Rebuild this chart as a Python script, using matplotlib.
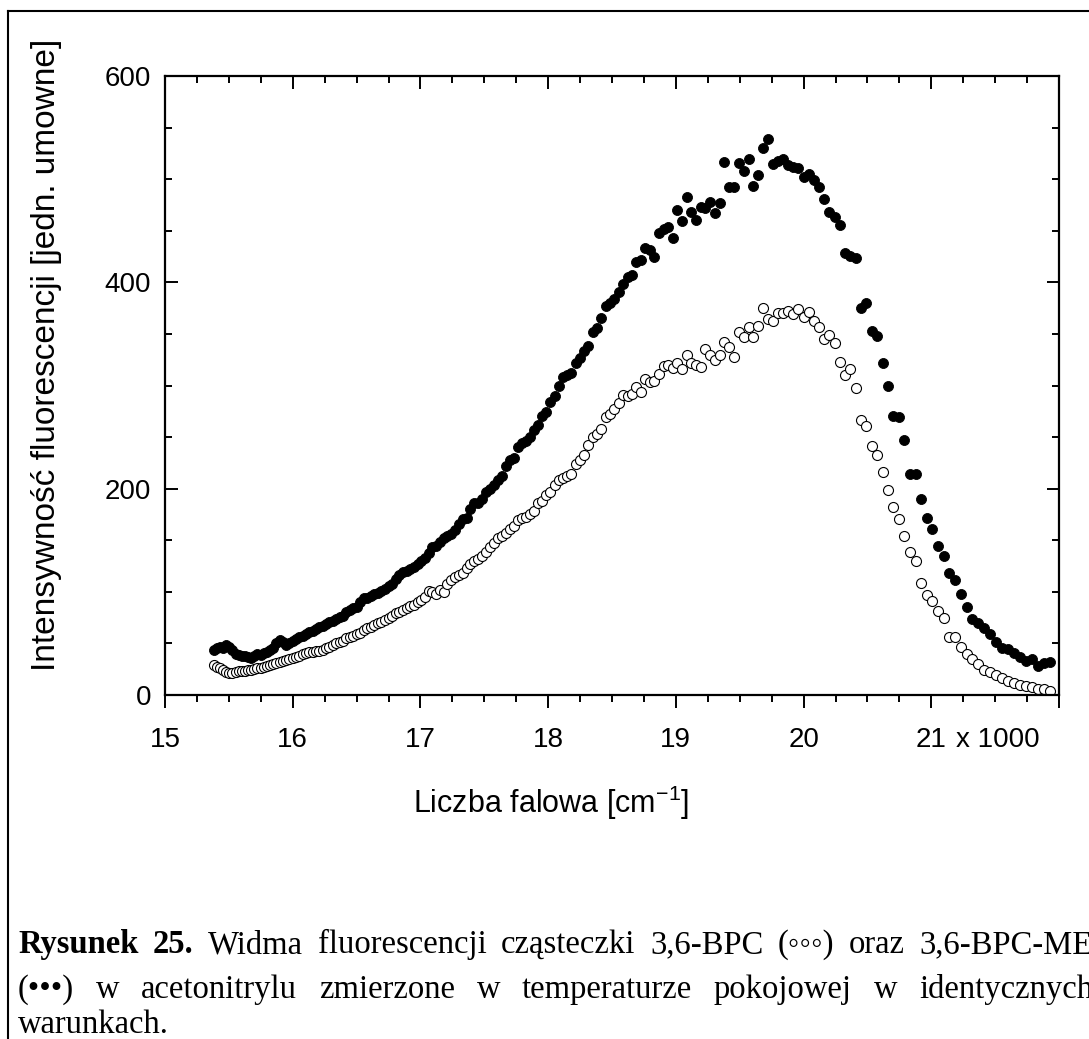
import numpy as np
import matplotlib
matplotlib.use('Agg')
import matplotlib.pyplot as plt
from matplotlib.lines import Line2D
from matplotlib.ticker import MultipleLocator

# widma zmierzone co 1 nm, od 650 nm do 456 nm
wavelength_nm = np.arange(650, 455, -1)
wavenumber_k = 1e4 / wavelength_nm  # [cm-1] / 1000

# 3,6-BPC-ME (punkty pelne)
bpc_me = [
    44, 46, 47, 46, 48, 47, 44, 40, 39, 38,
    38, 37, 36, 38, 40, 39, 41, 42, 44, 46,
    50, 53, 51, 48, 50, 52, 54, 56, 57, 59,
    61, 62, 64, 66, 67, 69, 71, 72, 74, 76,
    77, 80, 82, 84, 85, 90, 94, 94, 96, 98,
    99, 101, 103, 106, 108, 112, 116, 119, 120, 122,
    124, 127, 130, 133, 138, 143, 144, 148, 152, 154,
    156, 160, 166, 171, 172, 180, 186, 186, 190, 197,
    200, 204, 208, 212, 222, 228, 230, 240, 244, 246,
    250, 257, 262, 270, 274, 284, 290, 300, 308, 310,
    312, 322, 327, 333, 338, 352, 356, 365, 377, 380,
    384, 391, 398, 405, 407, 420, 422, 433, 431, 425,
    448, 452, 454, 443, 470, 459, 483, 468, 460, 473,
    472, 478, 467, 477, 517, 492, 492, 516, 508, 520,
    493, 504, 530, 539, 515, 518, 520, 514, 512, 511,
    502, 505, 499, 492, 481, 468, 463, 456, 428, 426,
    424, 375, 380, 353, 348, 322, 300, 270, 269, 247,
    214, 214, 190, 172, 161, 144, 135, 118, 111, 98,
    85, 74, 70, 65, 59, 51, 46, 45, 41, 37,
    33, 35, 28, 31, 32,
]

# 3,6-BPC (punkty puste)
bpc = [
    29, 27, 26, 24, 22, 21, 21, 22, 23, 23,
    23, 24, 24, 25, 26, 26, 27, 28, 29, 30,
    31, 32, 33, 34, 35, 36, 37, 38, 40, 41,
    42, 42, 43, 43, 44, 46, 47, 48, 50, 51,
    52, 55, 56, 57, 59, 60, 63, 65, 66, 68,
    70, 71, 73, 75, 77, 79, 80, 82, 84, 86,
    87, 90, 92, 95, 101, 100, 98, 102, 100, 108,
    111, 114, 116, 118, 123, 127, 130, 132, 135, 139,
    143, 147, 152, 154, 157, 161, 164, 170, 172, 173,
    175, 178, 186, 188, 194, 197, 204, 208, 210, 212,
    214, 224, 228, 233, 242, 250, 253, 258, 269, 272,
    277, 283, 291, 290, 292, 299, 294, 306, 303, 304,
    311, 319, 320, 317, 322, 316, 330, 322, 320, 318,
    335, 330, 325, 330, 342, 337, 328, 352, 347, 357,
    347, 358, 375, 364, 363, 370, 370, 372, 369, 374,
    366, 371, 363, 357, 345, 349, 341, 323, 310, 316,
    298, 267, 261, 241, 233, 216, 199, 182, 171, 154,
    139, 130, 109, 97, 91, 81, 75, 56, 56, 47,
    40, 35, 30, 24, 22, 19, 16, 14, 12, 10,
    9, 8, 6, 5.5, 4,
]

x_ticks = [15, 16, 17, 18, 19, 20, 21, 22]
x_tick_labels = ['15', '16', '17', '18', '19', '20', '21', '']
y_ticks = [0, 200, 400, 600]

caption_lines = [
    [('Rysunek', 'bold'), ('25.', 'bold'), ('Widma', 'normal'), ('fluorescencji', 'normal'),
     ('cząsteczki', 'normal'), ('3,6-BPC', 'normal'), ('(◦◦◦)', 'normal'), ('oraz', 'normal'),
     ('3,6-BPC-ME', 'normal')],
    [('(•••)', 'normal'), ('w', 'normal'), ('acetonitrylu', 'normal'), ('zmierzone', 'normal'),
     ('w', 'normal'), ('temperaturze', 'normal'), ('pokojowej', 'normal'), ('w', 'normal'),
     ('identycznych', 'normal')],
    [('warunkach.', 'normal')],
]

W, H = 1089, 1039
plt.rcParams['font.family'] = ['Liberation Sans', 'DejaVu Sans']
plt.rcParams['mathtext.default'] = 'regular'

fig = plt.figure(figsize=(W / 100, H / 100), dpi=100)
ax = fig.add_axes([165 / W, 1 - 695 / H, (1059 - 165) / W, (695 - 76) / H])

ax.plot(wavenumber_k, bpc_me, 'o', ms=7.2, mfc='black', mec='black', mew=0.6)
ax.plot(wavenumber_k, bpc, 'o', ms=7.2, mfc='white', mec='black', mew=0.8)

ax.set_xlim(15, 22)
ax.set_ylim(0, 600)
ax.set_xticks(x_ticks)
ax.set_xticklabels(x_tick_labels)
ax.xaxis.set_minor_locator(MultipleLocator(0.25))
ax.set_yticks(y_ticks)
ax.yaxis.set_minor_locator(MultipleLocator(50))

for s in ax.spines.values():
    s.set_linewidth(1.6)
ax.tick_params(axis='both', which='both', labelsize=20, width=1.4)
ax.tick_params(axis='x', which='both', direction='out', top=True, pad=14)
ax.tick_params(axis='y', which='both', direction='in', right=True, pad=10)
ax.tick_params(which='major', length=9)
ax.tick_params(which='minor', length=5)
# gorne znaczniki do srodka
for t in ax.xaxis.get_major_ticks() + ax.xaxis.get_minor_ticks():
    t.tick2line.set_marker(3)

ax.annotate('x 1000', xy=(21, 0), xycoords=('data', 'axes fraction'),
            xytext=(18, -9 - 14), textcoords='offset points',
            ha='left', va='top', fontsize=20)

ax.set_xlabel('Liczba falowa [cm$^{-1}$]', fontsize=22)
ax.xaxis.set_label_coords(0.432, -0.143)
ax.set_ylabel('Intensywność fluorescencji [jedn. umowne]', fontsize=24)
ax.yaxis.set_label_coords(-0.115, 0.55)

# ramka rysunku w dokumencie
fig.add_artist(Line2D([8 / W, 8 / W], [0, 1 - 11 / H], transform=fig.transFigure, color='black', lw=1.5))
fig.add_artist(Line2D([8 / W, 1], [1 - 11 / H, 1 - 11 / H], transform=fig.transFigure, color='black', lw=1.5))

# podpis wyjustowany
renderer = fig.canvas.get_renderer()
left_px, right_px = 18, 1093
baselines = [953, 998, 1033]
for words, base in zip(caption_lines, baselines):
    texts = []
    for w, weight in words:
        t = fig.text(0, 1 - base / H, w, fontsize=23.5, fontweight=weight,
                     family=['Liberation Serif', 'DejaVu Sans'], va='baseline')
        texts.append(t)
    widths = [t.get_window_extent(renderer).width for t in texts]
    gap = (right_px - left_px - sum(widths)) / (len(texts) - 1) if len(texts) > 1 else 0
    x = left_px
    for t, wd in zip(texts, widths):
        t.set_x(x / W)
        x += wd + gap

fig.savefig('out.png', dpi=100)
